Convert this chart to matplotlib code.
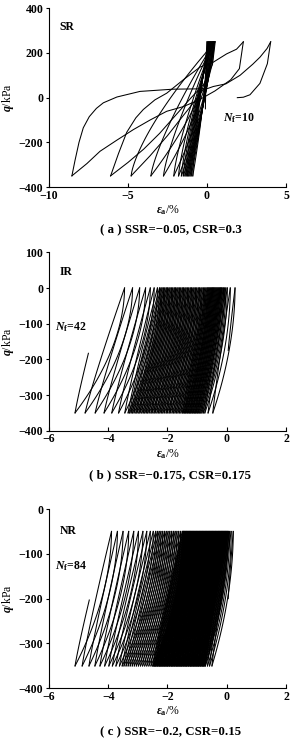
import numpy as np
import matplotlib
matplotlib.use("Agg")
import matplotlib.pyplot as plt

plt.rcParams['font.family'] = ['Liberation Serif', 'DejaVu Serif']
plt.rcParams['mathtext.fontset'] = 'custom'
plt.rcParams['mathtext.rm'] = 'Liberation Serif'
plt.rcParams['mathtext.it'] = 'Liberation Serif:italic'
plt.rcParams['mathtext.bf'] = 'Liberation Serif:bold'
plt.rcParams['font.weight'] = 'bold'

# ---------------- Panel (a) SR : q between +250 and -350 kPa ----------------
A_QMAX, A_QMIN = 250, -350
A_START = (-0.1, -50)
A_TOP = [0.0, 0.05, 0.1, 0.14, 0.18, 0.22, 0.26, 0.3, 0.33, 0.36, 0.4, 0.42, 0.45, 0.48]
A_BOT = [-0.9, -1.0, -1.08, -1.16, -1.24, -1.32, -1.4, -1.5, -1.62, -1.8, -2.1, -2.75, -3.55]
# large late cycles
A_UNL1_X = [0.48, 0.33, 0.0, -0.6, -1.5, -2.5, -3.6, -4.8]
A_UNL1_Q = [250, 150, 60, 0, -80, -170, -260, -350]
A_LOAD1_TOP = 0.52
A_UNL2_X = [0.52, 0.35, -0.2, -1.0, -2.0, -3.0, -4.0, -5.0, -6.1]
A_UNL2_Q = [250, 150, 60, 0, -80, -160, -230, -290, -350]
A_LOAD2_X = [-6.1, -5.6, -5.08, -4.5, -4.03, -3.3, -2.55, -1.5, -0.44, 0.4, 1.24, 1.87, 2.3]
A_LOAD2_Q = [-350, -250, -155, -90, -53, -10, 20, 80, 137, 159, 196, 217, 250]
A_UNL3_X = [2.3, 2.05, 1.5, 0.5, -0.5, -1.5, -2.55, -3.6, -4.66, -5.7, -6.77, -7.6, -8.55]
A_UNL3_Q = [250, 130, 80, 30, -10, -40, -61, -100, -143, -190, -240, -295, -350]
A_LOAD3_X = [-8.55, -8.35, -8.1, -7.83, -7.45, -7.0, -6.56, -5.7, -4.24, -2.15, 0.0, 0.4,
             1.2, 2.09, 2.9, 3.35, 3.8, 4.03]
A_LOAD3_Q = [-350, -280, -200, -135, -85, -48, -23, 3, 28, 38, 40, 50, 62, 100, 150, 181,
             220, 250]
A_UNL4_X = [4.03, 3.82, 3.35, 2.72, 2.3, 1.92]
A_UNL4_Q = [250, 152, 64, 13, 2, 0]

# ---------------- Panel (b) IR : q between 0 and -350 kPa ----------------
B_QMAX, B_QMIN = 0, -350
B_START = (0.05, -175)
B_TOP = [0.28, 0.12, 0.02, -0.03, -0.07, -0.11, -0.15, -0.18, -0.21, -0.24, -0.27, -0.30,
         -0.33, -0.36, -0.39, -0.42, -0.45, -0.48, -0.51, -0.54, -0.57, -0.60, -0.63, -0.66,
         -0.70,
         -0.74, -0.78, -0.83, -0.87, -0.92, -0.96, -1.01, -1.05, -1.10, -1.14, -1.19, -1.23,
         -1.28, -1.32, -1.37, -1.41, -1.46, -1.50, -1.55, -1.59, -1.64, -1.68, -1.73, -1.77,
         -1.82, -1.86, -1.91, -1.95, -2.00, -2.04, -2.09, -2.13, -2.18, -2.22, -2.27,
         -2.34, -2.45, -2.58, -2.74, -2.94, -3.18, -3.45]
B_BOT = [-0.47, -0.63, -0.74, -0.79, -0.84, -0.88, -0.92, -0.96, -0.99, -1.03, -1.06, -1.09,
         -1.13, -1.16, -1.20, -1.23, -1.26, -1.30, -1.33, -1.37, -1.40, -1.43, -1.47, -1.50,
         -1.55,
         -1.60, -1.65, -1.70, -1.75, -1.80, -1.85, -1.91, -1.95, -2.01, -2.05, -2.11, -2.16,
         -2.21, -2.26, -2.31, -2.36, -2.42, -2.46, -2.52, -2.56, -2.62, -2.67, -2.72, -2.77,
         -2.82, -2.87, -2.93, -2.97, -3.03, -3.07, -3.13, -3.18, -3.23, -3.28, -3.33,
         -3.44, -3.65, -3.88, -4.14, -4.44, -4.78, -5.12]
B_END = (-4.67, -183)

# ---------------- Panel (c) NR : q between -50 and -350 kPa ----------------
C_QMAX, C_QMIN = -50, -350
C_START = (0.05, -200)
C_TOP = [0.22, 0.15, 0.10,
         0.06, 0.04, 0.02, 0.00, -0.02, -0.04, -0.06, -0.08, -0.10, -0.12, -0.14, -0.16, -0.18,
         -0.20, -0.22, -0.24, -0.26, -0.28, -0.30, -0.32, -0.34, -0.36, -0.38, -0.40, -0.42,
         -0.44, -0.46, -0.48, -0.50, -0.52, -0.54, -0.56, -0.58, -0.60, -0.62, -0.64, -0.66,
         -0.68, -0.70, -0.72, -0.74, -0.76, -0.78, -0.80, -0.82, -0.84, -0.86, -0.88, -0.90,
         -0.92, -0.94, -0.96, -0.98, -1.00, -1.02, -1.04, -1.06, -1.08, -1.10, -1.12, -1.14,
         -1.16, -1.18, -1.20, -1.22, -1.24, -1.26, -1.28, -1.30, -1.32, -1.34, -1.36, -1.38,
         -1.40, -1.42, -1.44, -1.46, -1.48, -1.50,
         -1.56, -1.62, -1.68, -1.74, -1.80, -1.86, -1.92, -1.98, -2.04, -2.10, -2.16, -2.22,
         -2.28, -2.34, -2.40,
         -2.48, -2.58, -2.70, -2.83, -2.98, -3.14, -3.31, -3.50, -3.69, -3.89]
C_BOT = [-0.50, -0.58, -0.65,
         -0.72, -0.74, -0.77, -0.79, -0.81, -0.83, -0.86, -0.88, -0.90, -0.93, -0.95, -0.97,
         -0.99, -1.02, -1.04, -1.06, -1.09, -1.11, -1.13, -1.15, -1.18, -1.20, -1.22, -1.24,
         -1.27, -1.29, -1.31, -1.34, -1.36, -1.38, -1.40, -1.43, -1.45, -1.47, -1.50, -1.52,
         -1.54, -1.56, -1.59, -1.61, -1.63, -1.66, -1.68, -1.70, -1.72, -1.75, -1.77, -1.79,
         -1.82, -1.84, -1.86, -1.88, -1.91, -1.93, -1.95, -1.98, -2.00, -2.02, -2.04, -2.07,
         -2.09, -2.11, -2.13, -2.16, -2.18, -2.20, -2.23, -2.25, -2.27, -2.29, -2.32, -2.34,
         -2.36, -2.39, -2.41, -2.43, -2.45, -2.48, -2.50,
         -2.56, -2.63, -2.70, -2.77, -2.84, -2.91, -2.98, -3.05, -3.12, -3.19, -3.26, -3.33,
         -3.40, -3.47, -3.53,
         -3.62, -3.74, -3.86, -3.98, -4.12, -4.28, -4.45, -4.65, -4.88, -5.12]
C_END = (-4.64, -203)

LW = 0.75


def branch(ax, x0, q0, x1, q1, p, n=40):
    s = np.linspace(0.0, 1.0, n)
    ax.plot(x0 + (x1 - x0) * s ** p, q0 + (q1 - q0) * s, color='black', lw=LW,
            solid_joinstyle='round')


def cycles(ax, start, tops, bots, qmax, qmin, pl, pu, end=None):
    branch(ax, start[0], start[1], tops[0], qmax, pl)
    for i in range(len(bots)):
        branch(ax, tops[i], qmax, bots[i], qmin, pu)
        if i + 1 < len(tops):
            branch(ax, bots[i], qmin, tops[i + 1], qmax, pl)
        elif end is not None:
            branch(ax, bots[i], qmin, end[0], end[1], pl)


def style(ax, xlim, ylim, xticks, yticks):
    ax.set_xlim(*xlim)
    ax.set_ylim(*ylim)
    ax.set_xticks(xticks)
    ax.set_yticks(yticks)
    for sp in ('top', 'right'):
        ax.spines[sp].set_visible(False)
    for sp in ('left', 'bottom'):
        ax.spines[sp].set_linewidth(0.8)
    ax.tick_params(axis='x', direction='in', length=3, width=0.8, labelsize=8.5, pad=2)
    ax.tick_params(axis='y', direction='out', length=2.5, width=0.8, labelsize=8.5, pad=1.5)
    ax.set_ylabel(r'$q$/kPa', fontsize=8.5, labelpad=2)
    ax.set_xlabel(r'$\varepsilon_{\rm a}$/%', fontsize=8.5, labelpad=1)


fig = plt.figure(figsize=(2.93, 7.43), dpi=100)
L, W = 0.1672, 0.8089

# (a)
axa = fig.add_axes([L, 0.7483, W, 0.2405])
cycles(axa, A_START, A_TOP, A_BOT, A_QMAX, A_QMIN, 1.3, 1.6)
axa.plot(A_UNL1_X, A_UNL1_Q, color='black', lw=LW)
branch(axa, A_UNL1_X[-1], A_QMIN, A_LOAD1_TOP, A_QMAX, 1.4)
axa.plot(A_UNL2_X, A_UNL2_Q, color='black', lw=LW)
axa.plot(A_LOAD2_X, A_LOAD2_Q, color='black', lw=LW)
axa.plot(A_UNL3_X, A_UNL3_Q, color='black', lw=LW)
axa.plot(A_LOAD3_X, A_LOAD3_Q, color='black', lw=LW)
axa.plot(A_UNL4_X, A_UNL4_Q, color='black', lw=LW)
style(axa, (-10, 5), (-400, 400), [-10, -5, 0, 5], [-400, -200, 0, 200, 400])
axa.text(0.046, 0.895, 'SR', transform=axa.transAxes, fontsize=8.5, va='center')
axa.text(0.733, 0.384, r'$N_{\rm f}$=10', transform=axa.transAxes, fontsize=8.5, va='center')

# (b)
axb = fig.add_axes([L, 0.4203, W, 0.2401])
cycles(axb, B_START, B_TOP, B_BOT, B_QMAX, B_QMIN, 1.1, 1.9, end=B_END)
style(axb, (-6, 2), (-400, 100), [-6, -4, -2, 0, 2], [-400, -300, -200, -100, 0, 100])
axb.text(0.046, 0.891, 'IR', transform=axb.transAxes, fontsize=8.5, va='center')
axb.text(0.025, 0.583, r'$N_{\rm f}$=42', transform=axb.transAxes, fontsize=8.5, va='center')

# (c)
axc = fig.add_axes([L, 0.0736, W, 0.2413])
cycles(axc, C_START, C_TOP, C_BOT, C_QMAX, C_QMIN, 1.1, 1.9, end=C_END)
style(axc, (-6, 2), (-400, 0), [-6, -4, -2, 0, 2], [-400, -300, -200, -100, 0])
axc.text(0.046, 0.879, 'NR', transform=axc.transAxes, fontsize=8.5, va='center')
axc.text(0.025, 0.682, r'$N_{\rm f}$=84', transform=axc.transAxes, fontsize=8.5, va='center')

cx = L + W / 2 + 0.01
fig.text(cx, 1 - 230 / 743, '( a ) SSR=\u22120.05, CSR=0.3', ha='center', va='center', fontsize=9.3)
fig.text(cx, 1 - 475 / 743, '( b ) SSR=\u22120.175, CSR=0.175', ha='center', va='center', fontsize=9.3)
fig.text(cx, 1 - 732 / 743, '( c ) SSR=\u22120.2, CSR=0.15', ha='center', va='center', fontsize=9.3)

fig.savefig('out.png', dpi=100)
